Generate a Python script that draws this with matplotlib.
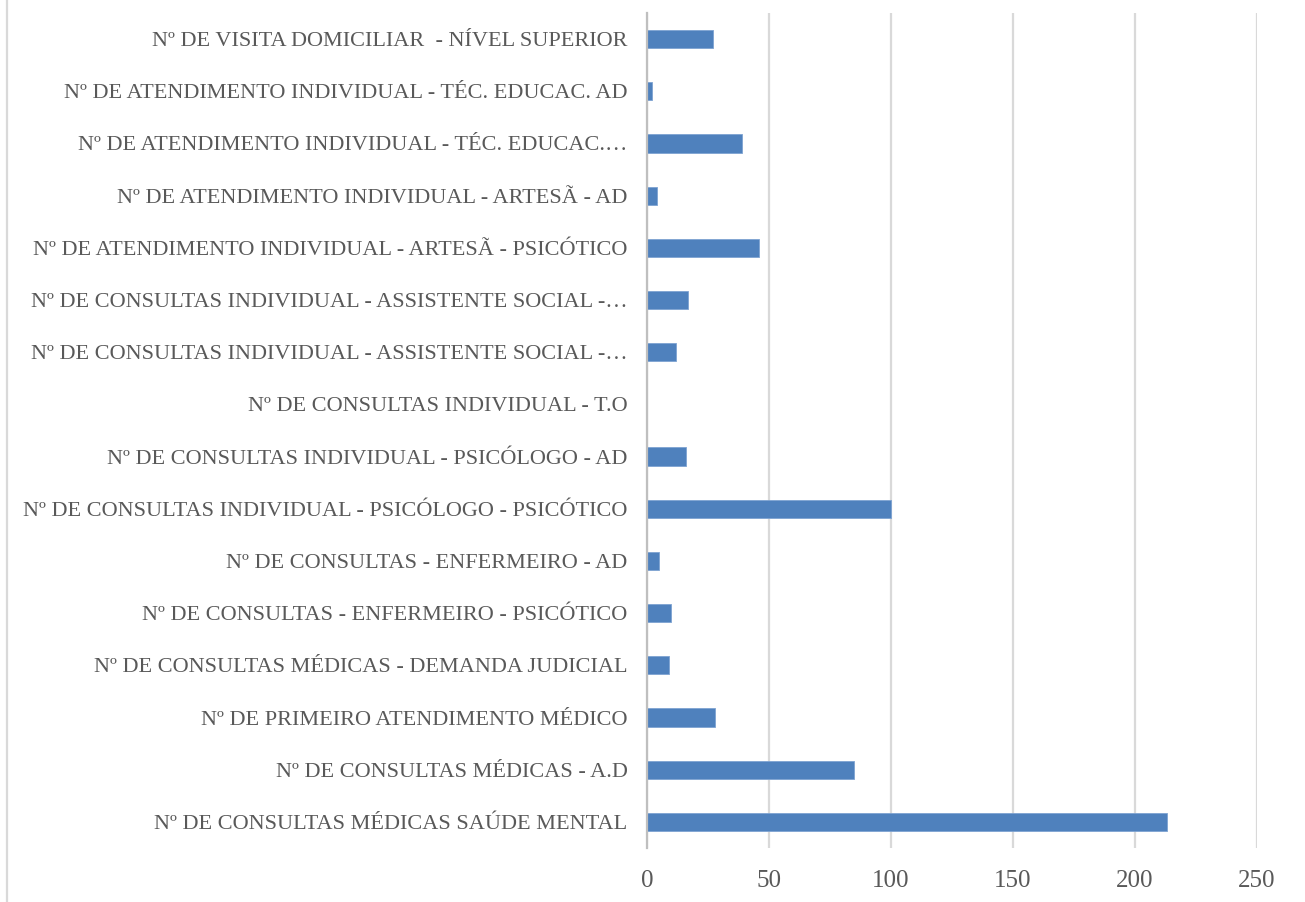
import matplotlib.pyplot as plt
from matplotlib.lines import Line2D

categorias = [
    "Nº DE CONSULTAS MÉDICAS SAÚDE MENTAL",
    "Nº DE CONSULTAS MÉDICAS - A.D",
    "Nº DE PRIMEIRO ATENDIMENTO MÉDICO",
    "Nº DE CONSULTAS MÉDICAS - DEMANDA JUDICIAL",
    "Nº DE CONSULTAS - ENFERMEIRO - PSICÓTICO",
    "Nº DE CONSULTAS - ENFERMEIRO - AD",
    "Nº DE CONSULTAS INDIVIDUAL - PSICÓLOGO - PSICÓTICO",
    "Nº DE CONSULTAS INDIVIDUAL - PSICÓLOGO - AD",
    "Nº DE CONSULTAS INDIVIDUAL - T.O",
    "Nº DE CONSULTAS INDIVIDUAL - ASSISTENTE SOCIAL -…",
    "Nº DE CONSULTAS INDIVIDUAL - ASSISTENTE SOCIAL -…",
    "Nº DE ATENDIMENTO INDIVIDUAL - ARTESÃ - PSICÓTICO",
    "Nº DE ATENDIMENTO INDIVIDUAL - ARTESÃ - AD",
    "Nº DE ATENDIMENTO INDIVIDUAL - TÉC. EDUCAC.…",
    "Nº DE ATENDIMENTO INDIVIDUAL - TÉC. EDUCAC. AD",
    "Nº DE VISITA DOMICILIAR  - NÍVEL SUPERIOR",
]
valores = [213, 85, 28, 9, 10, 5, 100, 16, 0, 12, 17, 46, 4, 39, 2, 27]
xticks = [0, 50, 100, 150, 200, 250]

texto = "#595959"
grade = "#d9d9d9"

plt.rcParams["font.family"] = ["Liberation Serif", "DejaVu Serif"]

fig = plt.figure(figsize=(13.05, 9.02), dpi=100)
ax = fig.add_axes([647 / 1305, 54 / 902, 610 / 1305, 835 / 902])

pos = list(range(len(categorias)))
ax.barh(pos, valores, height=0.35, color="#4f81bd",
        edgecolor="#7ea3d2", linewidth=0.6, zorder=3)

ax.set_xlim(0, 250)
ax.set_ylim(-0.5, len(categorias) - 0.5)
ax.set_xticks(xticks)
ax.set_yticks(pos)
ax.set_yticklabels(categorias)
ax.xaxis.grid(True, color=grade, linewidth=1.6, zorder=0)

for lado in ["top", "right", "bottom"]:
    ax.spines[lado].set_visible(False)
ax.spines["left"].set_color("#bfbfbf")
ax.spines["left"].set_linewidth(1.6)
ax.spines["left"].set_zorder(4)

ax.tick_params(axis="both", length=0, colors=texto)
ax.tick_params(axis="y", pad=14, labelsize=16)
ax.tick_params(axis="x", pad=16, labelsize=18)

# borda esquerda da área do gráfico
fig.add_artist(Line2D([7 / 1305, 7 / 1305], [0, 1], color=grade,
                      linewidth=1.6, transform=fig.transFigure))

fig.savefig("out.png", dpi=100)
